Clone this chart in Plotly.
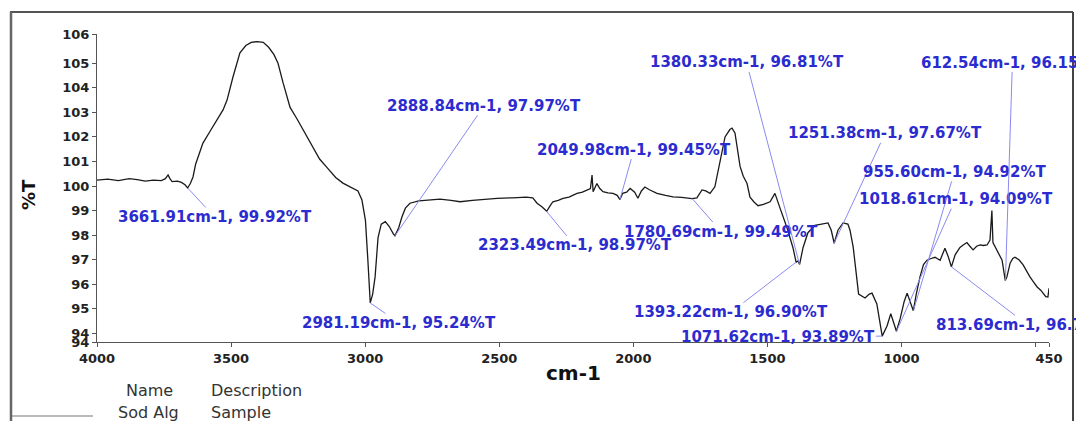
import plotly.graph_objects as go

# ---------------- data ----------------
wavenumber = [4000, 3960, 3920, 3880, 3850, 3820, 3790, 3760, 3745, 3735, 3728, 3720, 3700, 3685, 3672,
              3662, 3652, 3642, 3632, 3620, 3605, 3580, 3552, 3530, 3515, 3493, 3467, 3445, 3425, 3403,
              3380, 3360, 3340, 3325, 3306, 3280, 3255, 3232, 3210, 3194, 3170, 3142, 3110, 3083, 3050,
              3027, 3012, 2999, 2990, 2981, 2972, 2963, 2952, 2940, 2925, 2910, 2895, 2889, 2875, 2863,
              2850, 2833, 2800, 2769, 2721, 2680, 2646, 2600, 2550, 2508, 2450, 2400, 2375, 2359, 2340,
              2323, 2310, 2300, 2280, 2262, 2240, 2210, 2190, 2173, 2160, 2154, 2150, 2136, 2125, 2113,
              2095, 2076, 2060, 2050, 2040, 2025, 2012, 1995, 1983, 1970, 1957, 1940, 1912, 1880, 1852,
              1820, 1781, 1763, 1744, 1730, 1714, 1696, 1677, 1658, 1640, 1632, 1621, 1610, 1602, 1590,
              1576, 1565, 1550, 1535, 1515, 1490, 1472, 1453, 1440, 1427, 1405, 1393, 1386, 1380, 1367,
              1349, 1323, 1300, 1274, 1262, 1251, 1237, 1218, 1200, 1192, 1180, 1160, 1136, 1120, 1110,
              1092, 1072, 1054, 1040, 1030, 1019, 1005, 990, 979, 968, 956, 945, 931, 918, 905,
              890, 875, 856, 838, 825, 814, 800, 782, 770, 756, 745, 733, 720, 707, 695,
              681, 670, 663, 659, 650, 640, 625, 613, 607, 595, 585, 577, 562, 547, 535,
              521, 508, 495, 480, 472, 462, 454, 450]
transmittance = [100.24, 100.28, 100.22, 100.30, 100.26, 100.20, 100.24, 100.22, 100.30, 100.45, 100.30, 100.18, 100.20, 100.15, 100.05,
                 99.92, 100.10, 100.37, 100.90, 101.30, 101.75, 102.20, 102.70, 103.10, 103.50, 104.44, 105.42, 105.72, 105.85, 105.88,
                 105.85, 105.65, 105.35, 105.00, 104.20, 103.20, 102.75, 102.30, 101.90, 101.55, 101.10, 100.75, 100.35, 100.12, 99.95,
                 99.80, 99.43, 98.60, 97.00, 95.24, 95.60, 96.30, 97.90, 98.45, 98.55, 98.35, 98.05, 97.97, 98.30, 98.74,
                 99.10, 99.30, 99.40, 99.43, 99.47, 99.42, 99.36, 99.42, 99.48, 99.50, 99.52, 99.55, 99.52, 99.30, 99.15,
                 98.97, 99.20, 99.36, 99.42, 99.50, 99.55, 99.70, 99.75, 99.84, 99.90, 100.45, 99.77, 100.10, 99.90, 99.77,
                 99.72, 99.70, 99.62, 99.45, 99.70, 99.75, 99.90, 99.75, 99.50, 99.80, 99.96, 99.85, 99.70, 99.62, 99.56,
                 99.54, 99.49, 99.52, 99.84, 99.80, 99.70, 99.97, 100.93, 102.00, 102.30, 102.36, 102.16, 101.34, 100.80, 100.40,
                 100.10, 99.55, 99.35, 99.20, 99.25, 99.36, 99.70, 99.10, 98.70, 98.30, 97.50, 96.90, 96.95, 96.81, 97.50,
                 98.10, 98.40, 98.45, 98.50, 98.20, 97.67, 98.20, 98.50, 98.45, 98.20, 97.50, 95.60, 95.44, 95.60, 95.64,
                 95.20, 93.89, 94.30, 94.80, 94.50, 94.09, 94.60, 95.30, 95.64, 95.30, 94.92, 95.60, 96.30, 96.80, 96.98,
                 97.05, 97.10, 96.98, 97.47, 97.10, 96.71, 97.20, 97.50, 97.60, 97.70, 97.55, 97.40, 97.55, 97.60, 97.58,
                 97.60, 97.80, 99.00, 97.70, 97.50, 97.30, 96.98, 96.15, 96.30, 96.86, 97.05, 97.10, 97.00, 96.80, 96.55,
                 96.30, 96.10, 95.90, 95.75, 95.64, 95.50, 95.48, 95.84]

peak_wn = [3661.91, 2981.19, 2888.84, 2323.49, 2049.98, 1780.69, 1380.33, 1393.22,
           1251.38, 955.60, 1018.61, 1071.62, 612.54, 813.69]
peak_T = [99.92, 95.24, 97.97, 98.97, 99.45, 99.49, 96.81, 96.90,
          97.67, 94.92, 94.09, 93.89, 96.15, 96.71]

x_tickvals = [4000, 3500, 3000, 2500, 2000, 1500, 1000, 500, 450]
x_ticktext = ["4000", "3500", "3000", "2500", "2000", "1500", "1000", "", "450"]
y_tickvals = [93.65, 94, 95, 96, 97, 98, 99, 100, 101, 102, 103, 104, 105, 106.19]
y_ticktext = ["94", "94", "95", "96", "97", "98", "99", "100", "101", "102", "103", "104", "105", "106"]

legend_name = "Sod Alg"
legend_desc = "Sample"

# ---------------- layout helpers (pixel offsets of the peak labels) ----------------
label_offsets = [(27, 29), (29, 20), (89, -130), (28, 34), (14, -50), (29, 33), (-53, -202), (-65, 50),
                 (51, -110), (41, -139), (59, -132), (-104, 1), (7, -218), (76, 58)]

W, H = 1076, 421
L, R, T, B = 97, 27, 34, 79
PW, PH = W - L - R, H - T - B


def px(xp):
    return (xp - L) / PW


def py(yp):
    return (H - B - yp) / PH


FONT = "DejaVu Sans"
BLUE = "#2b2bcf"
LEADER = "#8a8af0"

fig = go.Figure()
fig.add_trace(go.Scatter(x=wavenumber, y=transmittance, mode="lines",
                         line=dict(color="#1a1a1a", width=1.3), showlegend=False,
                         hoverinfo="skip"))

annotations = []
for wn, tv, (ax, ay) in zip(peak_wn, peak_T, label_offsets):
    annotations.append(dict(
        x=wn, y=tv, xref="x", yref="y", ax=ax, ay=ay,
        text=f"{wn:.2f}cm-1, {tv:.2f}%T",
        showarrow=True, arrowhead=0, arrowwidth=1, arrowcolor=LEADER,
        font=dict(family=FONT, size=15, color=BLUE, weight="bold"),
        borderpad=0,
    ))

# axis titles
annotations.append(dict(x=px(28), y=py(195), xref="paper", yref="paper", text="%T",
                        textangle=-90, showarrow=False, xanchor="center", yanchor="middle",
                        font=dict(family=FONT, size=18, color="#111", weight="bold")))
annotations.append(dict(x=px(573), y=py(373), xref="paper", yref="paper", text="cm-1",
                        showarrow=False, xanchor="center", yanchor="middle",
                        font=dict(family=FONT, size=20, color="#111", weight="bold")))

# legend table
lg_font = dict(family=FONT, size=16, color="#333")
annotations += [
    dict(x=px(124), y=py(390), text="Name", xanchor="left"),
    dict(x=px(209), y=py(390), text="Description", xanchor="left"),
    dict(x=px(116), y=py(412), text=legend_name, xanchor="left"),
    dict(x=px(209), y=py(412), text=legend_desc, xanchor="left"),
]
for a in annotations[-4:]:
    a.update(xref="paper", yref="paper", showarrow=False, yanchor="middle", font=lg_font)

shapes = [
    # legend sample line
    dict(type="line", xref="paper", yref="paper", x0=px(12), x1=px(93), y0=py(416), y1=py(416),
         line=dict(color="#777", width=1)),
    # outer frame
    dict(type="line", xref="paper", yref="paper", x0=px(10), x1=px(1073), y0=py(12), y1=py(12),
         line=dict(color="#555", width=2)),
    dict(type="line", xref="paper", yref="paper", x0=px(11), x1=px(11), y0=py(12), y1=py(421),
         line=dict(color="#666", width=2.5)),
    dict(type="line", xref="paper", yref="paper", x0=px(1073), x1=px(1073), y0=py(12), y1=py(421),
         line=dict(color="#444", width=2)),
]

tick_font = dict(family=FONT, size=13, color="#222", weight="bold")
fig.update_layout(
    width=W, height=H, margin=dict(l=L, r=R, t=T, b=B),
    paper_bgcolor="white", plot_bgcolor="white",
    xaxis=dict(range=[4000, 450], tickvals=x_tickvals, ticktext=x_ticktext,
               showgrid=False, zeroline=False, showline=True, linecolor="#555", linewidth=1,
               ticks="outside", ticklen=4, tickcolor="#555", tickfont=tick_font, mirror=False),
    yaxis=dict(range=[93.65, 106.19], tickvals=y_tickvals, ticktext=y_ticktext,
               showgrid=False, zeroline=False, showline=True, linecolor="#555", linewidth=1,
               ticks="outside", ticklen=4, tickcolor="#555", tickfont=tick_font, mirror=False),
    annotations=annotations, shapes=shapes, showlegend=False,
)

fig.write_html("out.html")
